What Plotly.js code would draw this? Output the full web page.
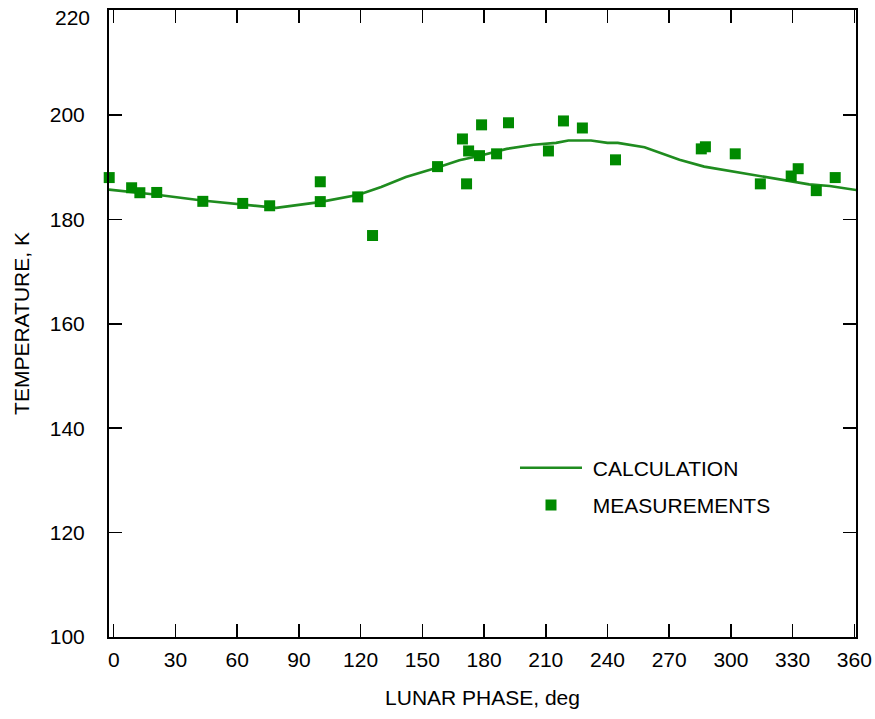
<!DOCTYPE html>
<html>
<head>
<meta charset="utf-8">
<script src="https://cdn.plot.ly/plotly-3.0.1.min.js"></script>
<style>html,body{margin:0;padding:0;background:#fff;}</style>
</head>
<body>
<div id="chart" style="width:875px;height:719px;"></div>
<script>
// Calculation curve (lunar phase, deg / temperature, K)
const calcPhase = [-2.3, 21, 43, 63, 79, 100, 119, 130, 142, 157, 168, 178, 191, 204, 215, 221, 232, 240, 245, 258, 275, 287, 301, 316, 329, 338, 348, 361];
const calcTemp  = [185.7, 184.7, 183.6, 182.9, 182.2, 183.3, 184.7, 186.2, 188.1, 189.9, 191.3, 192.2, 193.5, 194.3, 194.65, 195.1, 195.1, 194.65, 194.65, 193.8, 191.4, 190.1, 189.2, 188.2, 187.3, 186.7, 186.4, 185.6];

// Measurements
const measPhase = [-2.2, 8.7, 12.7, 20.9, 43.3, 62.7, 75.8, 100.4, 100.4, 118.6, 125.8,
                   157.4, 169.5, 172.5, 171.5, 177.8, 178.8, 186.1, 191.9, 211.3, 218.6, 227.8, 243.9,
                   285.6, 287.6, 302.1, 314.3, 329.3, 332.7, 341.5, 350.7];
const measTemp  = [188.0, 186.05, 185.1, 185.15, 183.45, 183.05, 182.6, 187.2, 183.4, 184.3, 176.9,
                   190.1, 195.4, 193.1, 186.8, 192.2, 198.1, 192.55, 198.5, 193.1, 198.85, 197.5, 191.4,
                   193.5, 193.9, 192.55, 186.8, 188.3, 189.7, 185.5, 188.0];

const xTicks = [0, 30, 60, 90, 120, 150, 180, 210, 240, 270, 300, 330, 360];
const yTicks = [100, 120, 140, 160, 180, 200, 220];
const yTopTick = yTicks[yTicks.length - 1];

const FONT = '"Liberation Sans", Arial, Helvetica, sans-serif';
const FS = 21;

const traces = [
  {
    x: calcPhase, y: calcTemp, type: 'scatter', mode: 'lines', name: '\u00a0CALCULATION',
    line: {color: '#1f8c1f', width: 2.6}, legendgroup: 'a'
  },
  {
    x: measPhase, y: measTemp, type: 'scatter', mode: 'markers', name: '\u00a0MEASUREMENTS',
    marker: {symbol: 'square', size: 11, color: '#008a00', line: {width: 0}},
    cliponaxis: false, legendgroup: 'b'
  }
];

const axisCommon = {
  showline: true, linecolor: '#000', linewidth: 2, mirror: 'ticks',
  ticks: 'inside', ticklen: 13, tickwidth: 1.5, tickcolor: '#000',
  showgrid: false, zeroline: false,
  tickfont: {family: FONT, size: FS, color: '#000'}
};

const layout = {
  width: 875, height: 719,
  margin: {l: 109, r: 19, t: 10, b: 82},
  paper_bgcolor: '#fff', plot_bgcolor: '#fff',
  font: {family: FONT, color: '#000'},
  showlegend: true,
  legend: {
    x: 0.5435, y: 0.302, xanchor: 'left', yanchor: 'top',
    bgcolor: 'rgba(0,0,0,0)', borderwidth: 0,
    font: {family: FONT, size: FS, color: '#000'},
    traceorder: 'grouped', tracegroupgap: 7, itemwidth: 62
  },
  xaxis: Object.assign({}, axisCommon, {
    range: [-2.3, 360.8], tickmode: 'array', tickvals: xTicks,
    ticktext: xTicks.map(String), ticklabelstandoff: 3,
    title: {text: 'LUNAR PHASE, deg', font: {family: FONT, size: FS, color: '#000'}, standoff: 20}
  }),
  yaxis: Object.assign({}, axisCommon, {
    range: [100, 220.1], tickmode: 'array', tickvals: yTicks,
    ticktext: yTicks.map(v => v === yTopTick ? '' : String(v)), ticklabelstandoff: 18,
    title: {text: 'TEMPERATURE, K', font: {family: FONT, size: FS, color: '#000'}, standoff: 14}
  }),
  annotations: [{
    xref: 'paper', yref: 'y', x: 0, y: yTopTick, text: String(yTopTick),
    xanchor: 'right', yanchor: 'middle', xshift: -17, yshift: -7, showarrow: false,
    font: {family: FONT, size: FS, color: '#000'}
  }]
};

Plotly.newPlot('chart', traces, layout, {displayModeBar: false, staticPlot: true});
</script>
</body>
</html>
